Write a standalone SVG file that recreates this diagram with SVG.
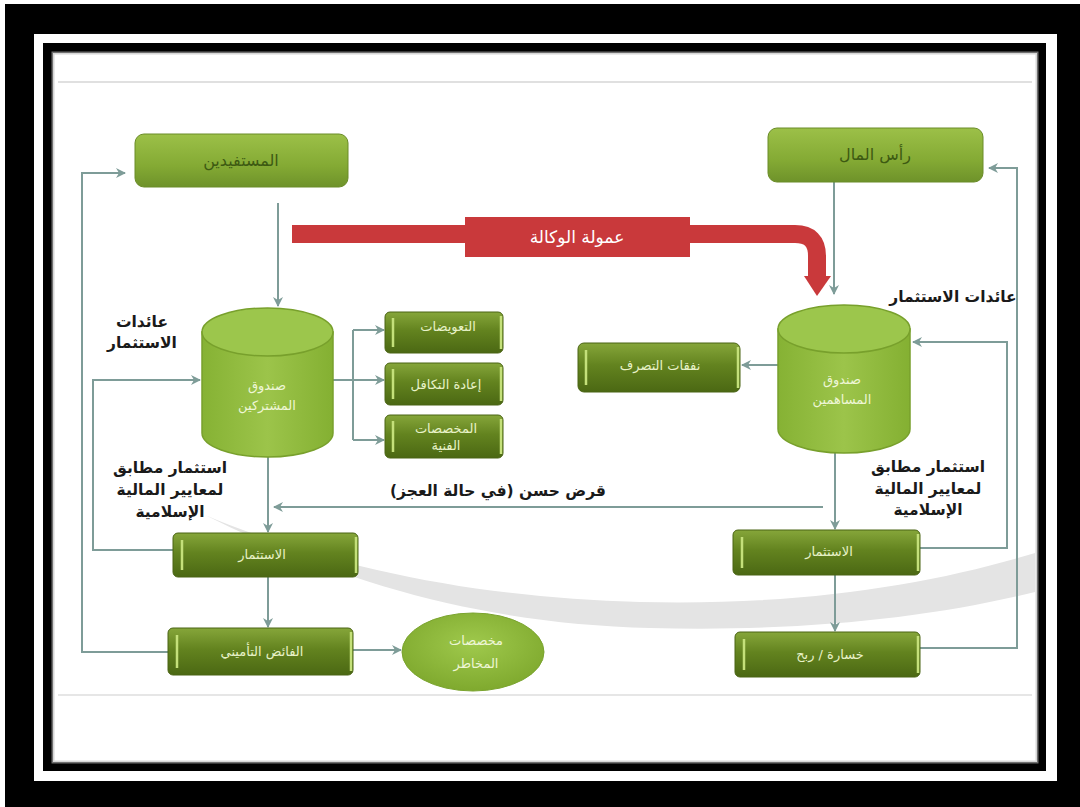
<svg xmlns="http://www.w3.org/2000/svg" width="1080" height="807" viewBox="0 0 1080 807">
<defs>
<style>
.ar{font-family:"DejaVu Sans","Noto Sans",sans-serif;direction:rtl}
.lbl{font-size:15.5px;font-weight:bold;fill:#1a1a1a;text-anchor:middle}
.bt{font-size:13px;fill:#e8f2c8;text-anchor:middle}
.tt{font-size:16px;fill:#3d5a12;text-anchor:middle}
.ct{font-size:13px;fill:#eef6d6;text-anchor:middle}
.con{fill:none;stroke:#7e9c98;stroke-width:2}
.dbox{fill:url(#gDark);stroke:#4a6414;stroke-width:1}
.hl{stroke:#c4e07a;stroke-width:2.5}
</style>
<linearGradient id="gDark" x1="0" y1="0" x2="0" y2="1">
<stop offset="0" stop-color="#86a63a"/>
<stop offset="0.45" stop-color="#63831f"/>
<stop offset="1" stop-color="#4b6813"/>
</linearGradient>
<linearGradient id="gTop" x1="0" y1="0" x2="0" y2="1">
<stop offset="0" stop-color="#9cc048"/>
<stop offset="0.6" stop-color="#84aa34"/>
<stop offset="1" stop-color="#6e922a"/>
</linearGradient>
<linearGradient id="gCyl" x1="0" y1="0" x2="1" y2="0">
<stop offset="0" stop-color="#86b234"/>
<stop offset="0.5" stop-color="#9cc44a"/>
<stop offset="1" stop-color="#84b032"/>
</linearGradient>
<radialGradient id="gEll" cx="0.5" cy="0.4" r="0.6">
<stop offset="0" stop-color="#9fc94c"/>
<stop offset="1" stop-color="#7fa92e"/>
</radialGradient>
<marker id="ar" viewBox="0 0 10 10" refX="9" refY="5" markerWidth="5" markerHeight="5" orient="auto">
<path d="M0,0 L10,5 L0,10 L3,5 z" fill="#7e9c98"/>
</marker>
</defs>

<!-- frame -->
<rect x="0" y="0" width="1080" height="807" fill="#000"/>
<rect x="0" y="0" width="5" height="807" fill="#fff"/>
<rect x="0" y="0" width="1080" height="4" fill="#fff"/>
<rect x="34" y="34" width="1023" height="747" fill="#fff"/>
<rect x="43" y="43" width="1003" height="728" fill="#000"/>
<rect x="53" y="53" width="984" height="709" fill="#fff"/>
<rect x="53" y="53" width="984" height="709" fill="none" stroke="#bbb" stroke-width="3" opacity="0.6"/>
<line x1="58" y1="82" x2="1032" y2="82" stroke="#e0e0e0" stroke-width="2"/>
<line x1="58" y1="695" x2="1032" y2="695" stroke="#e6e6e6" stroke-width="2"/>

<!-- background swoosh -->
<path d="M205,515 C330,568 480,598 640,602 C800,606 930,585 1035,553 L1035,592 C930,618 800,632 650,628 C500,624 360,592 205,515 z" fill="#e4e4e4"/>

<!-- connectors -->
<g id="connectors">
<path class="con" d="M278,203 L278,306" marker-end="url(#ar)"/>
<path class="con" d="M834,182 L834,294" marker-end="url(#ar)"/>
<path class="con" d="M333,380 L353,380"/>
<path class="con" d="M353,330 L353,440"/>
<path class="con" d="M353,330 L384,330" marker-end="url(#ar)"/>
<path class="con" d="M353,380 L384,380" marker-end="url(#ar)"/>
<path class="con" d="M353,440 L384,440" marker-end="url(#ar)"/>
<path class="con" d="M173,550 L93,550 L93,380 L200,380" marker-end="url(#ar)"/>
<path class="con" d="M168,652 L82,652 L82,173 L125,173" marker-end="url(#ar)"/>
<path class="con" d="M268,457 L268,532" marker-end="url(#ar)"/>
<path class="con" d="M268,577 L268,627" marker-end="url(#ar)"/>
<path class="con" d="M353,650 L401,650" marker-end="url(#ar)"/>
<path class="con" d="M823,507 L274,507" marker-end="url(#ar)"/>
<path class="con" d="M778,365 L742,365" marker-end="url(#ar)"/>
<path class="con" d="M920,548 L1007,548 L1007,342 L913,342" marker-end="url(#ar)"/>
<path class="con" d="M920,648 L1017,648 L1017,168 L989,168" marker-end="url(#ar)"/>
<path class="con" d="M835,453 L835,529" marker-end="url(#ar)"/>
<path class="con" d="M835,575 L835,631" marker-end="url(#ar)"/>
</g>

<!-- red commission arrow -->
<g id="commission">
<path d="M292,234 L795,234 Q817,234 817,256 L817,278" fill="none" stroke="#c9393b" stroke-width="18"/>
<polygon points="804,276 831,276 817,296" fill="#c9393b"/>
<rect x="465" y="217" width="225" height="40" fill="#c9393b"/>
<text class="ar" x="577" y="243" font-size="17" fill="#fff" text-anchor="middle">عمولة الوكالة</text>
</g>

<!-- top nodes -->
<g id="beneficiaries">
<rect x="135" y="134" width="213" height="53" rx="9" fill="url(#gTop)" stroke="#6a8c28"/>
<text class="ar tt" x="241" y="166">المستفيدين</text>
</g>
<g id="capital">
<rect x="768" y="128" width="215" height="54" rx="9" fill="url(#gTop)" stroke="#6a8c28"/>
<text class="ar tt" x="875" y="160">رأس المال</text>
</g>

<!-- participants fund cylinder -->
<g id="participants-fund">
<path d="M202,332 L202,433 A65.5,24 0 0 0 333,433 L333,332 z" fill="url(#gCyl)" stroke="#78a02c" stroke-width="1.5"/>
<ellipse cx="267.5" cy="332" rx="65.5" ry="24" fill="#9cc64c" stroke="#78a02c" stroke-width="1.5"/>
<text class="ar ct" x="267" y="390">صندوق</text>
<text class="ar ct" x="267" y="410">المشتركين</text>
</g>

<g id="returns-left">
<text class="ar lbl" x="142" y="327">عائدات</text>
<text class="ar lbl" x="142" y="348">الاستثمار</text>
</g>

<g id="compensations">
<rect class="dbox" x="385" y="312" width="118" height="41" rx="5"/>
<line class="hl" x1="393" y1="318" x2="393" y2="347"/>
<line class="hl" x1="501" y1="316" x2="501" y2="349"/>
<text class="ar bt" x="448" y="331">التعويضات</text>
</g>
<g id="retakaful">
<rect class="dbox" x="385" y="363" width="118" height="42" rx="5"/>
<line class="hl" x1="393" y1="369" x2="393" y2="399"/>
<line class="hl" x1="501" y1="367" x2="501" y2="401"/>
<text class="ar bt" x="446" y="389">إعادة التكافل</text>
</g>
<g id="technical-provisions">
<rect class="dbox" x="385" y="415" width="118" height="43" rx="5"/>
<line class="hl" x1="393" y1="421" x2="393" y2="452"/>
<line class="hl" x1="501" y1="419" x2="501" y2="454"/>
<text class="ar bt" x="446" y="433">المخصصات</text>
<text class="ar bt" x="446" y="450">الفنية</text>
</g>

<g id="compliant-left">
<text class="ar lbl" x="170" y="473">استثمار مطابق</text>
<text class="ar lbl" x="170" y="495">لمعايير المالية</text>
<text class="ar lbl" x="170" y="517">الإسلامية</text>
</g>

<g id="investment-left">
<rect class="dbox" x="173" y="533" width="185" height="44" rx="5"/>
<line class="hl" x1="182" y1="540" x2="182" y2="570"/>
<line class="hl" x1="356" y1="537" x2="356" y2="573"/>
<text class="ar bt" x="262" y="559">الاستثمار</text>
</g>

<g id="surplus">
<rect class="dbox" x="168" y="628" width="185" height="47" rx="5"/>
<line class="hl" x1="177" y1="635" x2="177" y2="668"/>
<line class="hl" x1="351" y1="632" x2="351" y2="671"/>
<text class="ar bt" x="262" y="656" font-size="15">الفائض التأميني</text>
</g>

<g id="risk-provisions">
<ellipse cx="473" cy="652" rx="71" ry="39" fill="url(#gEll)" stroke="#7aa42e"/>
<text class="ar ct" x="476" y="645" font-size="15">مخصصات</text>
<text class="ar ct" x="476" y="668" font-size="15">المخاطر</text>
</g>

<g id="loan-label">
<text class="ar lbl" x="498" y="496" font-size="14">قرض حسن (في حالة العجز)</text>
</g>

<!-- shareholders fund cylinder -->
<g id="shareholders-fund">
<path d="M778,329 L778,429 A66,24 0 0 0 910,429 L910,329 z" fill="url(#gCyl)" stroke="#78a02c" stroke-width="1.5"/>
<ellipse cx="844" cy="329" rx="66" ry="24" fill="#9cc64c" stroke="#78a02c" stroke-width="1.5"/>
<text class="ar ct" x="842" y="384">صندوق</text>
<text class="ar ct" x="842" y="404">المساهمين</text>
</g>

<g id="returns-right">
<text class="ar lbl" x="953" y="302">عائدات الاستثمار</text>
</g>

<g id="disposal-expenses">
<rect class="dbox" x="578" y="343" width="162" height="49" rx="6"/>
<line class="hl" x1="586" y1="350" x2="586" y2="385"/>
<line class="hl" x1="738" y1="347" x2="738" y2="388"/>
<text class="ar bt" x="660" y="370">نفقات التصرف</text>
</g>

<g id="compliant-right">
<text class="ar lbl" x="928" y="472">استثمار مطابق</text>
<text class="ar lbl" x="928" y="494">لمعايير المالية</text>
<text class="ar lbl" x="928" y="515">الإسلامية</text>
</g>

<g id="investment-right">
<rect class="dbox" x="733" y="530" width="187" height="45" rx="5"/>
<line class="hl" x1="742" y1="537" x2="742" y2="568"/>
<line class="hl" x1="918" y1="534" x2="918" y2="571"/>
<text class="ar bt" x="829" y="556">الاستثمار</text>
</g>

<g id="profit-loss">
<rect class="dbox" x="735" y="632" width="185" height="45" rx="5"/>
<line class="hl" x1="744" y1="639" x2="744" y2="670"/>
<line class="hl" x1="918" y1="636" x2="918" y2="673"/>
<text class="ar bt" x="830" y="659" font-size="15">خسارة / ربح</text>
</g>
</svg>
